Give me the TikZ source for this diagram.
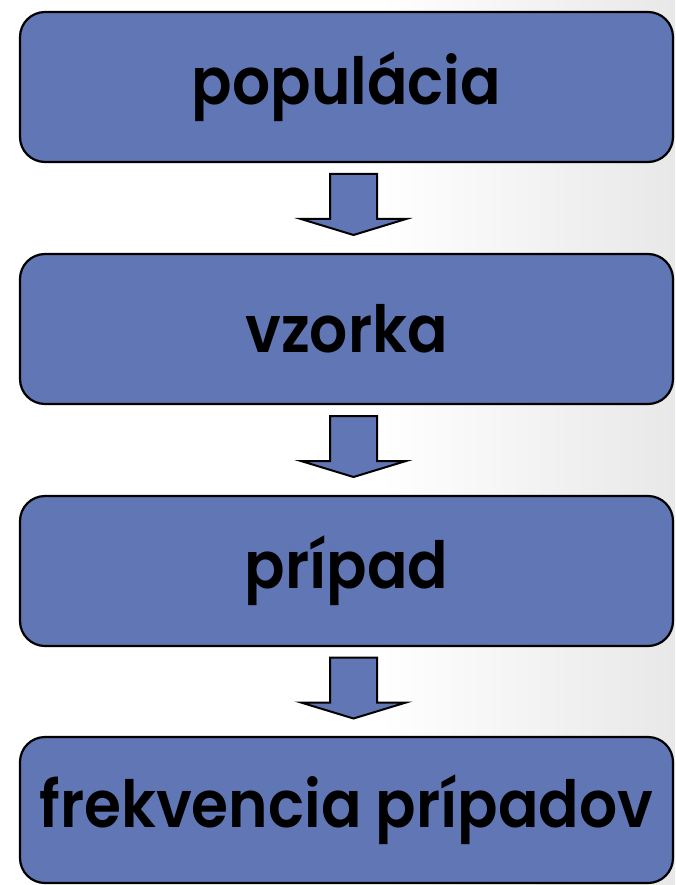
\documentclass[tikz,border=0pt]{standalone}
\usepackage{fontspec}
\setmainfont{Poppins}[BoldFont={Poppins SemiBold}, BoldFeatures={FakeStretch=0.92}]
\usetikzlibrary{calc}
\definecolor{boxblue}{RGB}{97,118,180}
\definecolor{bgright}{RGB}{232,232,232}
\tikzset{
  flowbox/.style={draw=black, line width=2.2pt, fill=boxblue, rounded corners=25pt,
    minimum width=653pt, minimum height=150pt, inner sep=0pt,
    font=\fontsize{65}{70}\selectfont\bfseries, text=black},
  blockarrow/.style={draw=black, line width=2pt, fill=boxblue, line join=miter},
  pics/downarrow/.style={code={
    \path[blockarrow] (-23.5,-34) -- (23.5,-34) -- (23.5,11) -- (52.5,11)
      -- (0,27) -- (-52.5,11) -- (-23.5,11) -- cycle;
  }}
}
\newcommand{\boxtext}[1]{\raisebox{-5pt}{#1}}
\begin{document}
\begin{tikzpicture}[x=1pt,y=-1pt]
\shade[left color=white, right color=white] (0,0) rectangle (380,885);
\shade[left color=white, right color=bgright] (380,0) rectangle (675,885);
\useasboundingbox (0,0) rectangle (675,885);
\node[flowbox] (b1) at (346.5,87) {\boxtext{populácia}};
\node[flowbox] (b2) at (346.5,329) {\boxtext{vzorka}};
\node[flowbox] (b3) at (346.5,571) {\boxtext{prípad}};
\node[flowbox, minimum height=146pt] (b4) at (346.5,810) {\boxtext{frekvencia prípadov}};
\coordinate (m1) at ($(b1.south)!0.5!(b2.north)$);
\coordinate (m2) at ($(b2.south)!0.5!(b3.north)$);
\coordinate (m3) at ($(b3.south)!0.5!(b4.north)$);
\pic at ($(m1)+(7,0)$) {downarrow};
\pic at ($(m2)+(7,0)$) {downarrow};
\pic at ($(m3)+(7,0)$) {downarrow};
\end{tikzpicture}
\end{document}
